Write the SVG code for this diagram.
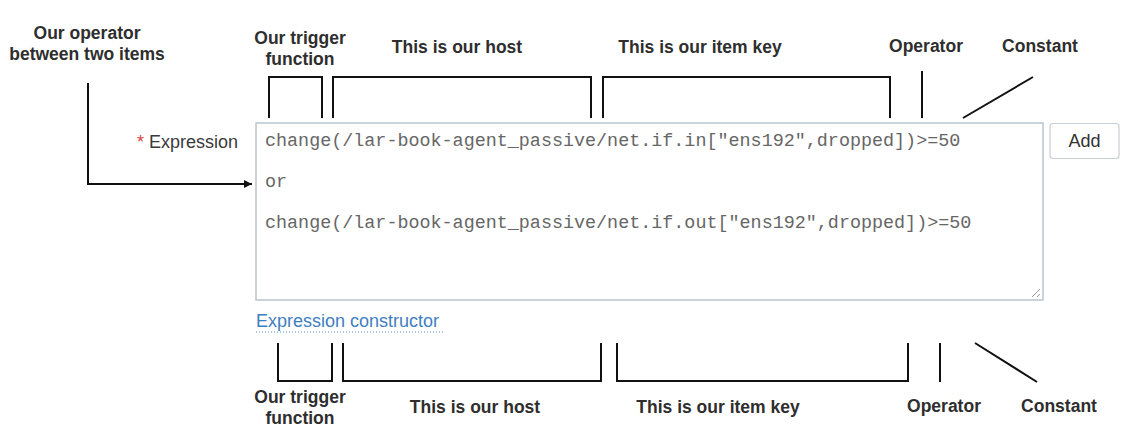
<svg xmlns="http://www.w3.org/2000/svg" width="1129" height="441" viewBox="0 0 1129 441">
<defs>
<style>
.lbl{font-family:"Liberation Sans",Arial,sans-serif;font-weight:bold;font-size:17.5px;fill:#2e2e2e;text-anchor:middle}
.ui{font-family:"Liberation Sans",Arial,sans-serif;font-size:18px}
.code{font-family:"Liberation Mono","Courier New",monospace;font-size:18.4px;fill:#666}
.ln{fill:none;stroke:#111;stroke-width:2}
</style>
<marker id="ah" viewBox="0 0 10 10" refX="10" refY="5" markerWidth="8" markerHeight="8" markerUnits="userSpaceOnUse" orient="auto">
<path d="M0,0 L10,5 L0,10 z" fill="#111"/>
</marker>
</defs>
<rect width="1129" height="441" fill="#fff"/>

<g id="form">
<text class="ui" x="137" y="148" fill="#d9443a" font-size="16">*</text>
<text class="ui" x="149" y="148" fill="#3a3a3a" font-size="18.2">Expression</text>
<rect x="256" y="123" width="787" height="177" fill="#fff" stroke="#b9c5ce" stroke-width="1.5"/>
<text class="code" x="265" y="146">change(/lar-book-agent_passive/net.if.in["ens192",dropped])&gt;=50</text>
<text class="code" x="265" y="187">or</text>
<text class="code" x="265" y="228">change(/lar-book-agent_passive/net.if.out["ens192",dropped])&gt;=50</text>
<path d="M1040,289 L1032,297 M1040,294 L1037,297" stroke="#999" stroke-width="1"/>
<rect x="1050" y="123.5" width="69" height="35" rx="3" fill="#fff" stroke="#c8cfd4" stroke-width="1.2"/>
<text class="ui" x="1084.5" y="147" fill="#333" text-anchor="middle">Add</text>
<text class="ui" x="256" y="327" fill="#3f7ec1" font-size="18.4">Expression constructor</text>
<line x1="256" y1="332" x2="443" y2="332" stroke="#5b93cc" stroke-width="1" stroke-dasharray="1,2"/>
</g>

<g id="top-operator-between"><text class="lbl" x="87" y="39">Our operator</text><text class="lbl" x="87" y="60">between two items</text></g>
<g id="top-trigger"><text class="lbl" x="300" y="44">Our trigger</text><text class="lbl" x="300" y="65">function</text></g>
<g id="top-host"><text class="lbl" x="457" y="53">This is our host</text></g>
<g id="top-itemkey"><text class="lbl" x="700" y="53">This is our item key</text></g>
<g id="top-operator"><text class="lbl" x="926" y="52">Operator</text></g>
<g id="top-constant"><text class="lbl" x="1040" y="52">Constant</text></g>

<g id="bot-trigger"><text class="lbl" x="300" y="403">Our trigger</text><text class="lbl" x="300" y="424">function</text></g>
<g id="bot-host"><text class="lbl" x="475" y="413">This is our host</text></g>
<g id="bot-itemkey"><text class="lbl" x="718" y="413">This is our item key</text></g>
<g id="bot-operator"><text class="lbl" x="944" y="412">Operator</text></g>
<g id="bot-constant"><text class="lbl" x="1059" y="412">Constant</text></g>

<g id="connectors">
<polyline class="ln" points="88,83 88,184 252,184" marker-end="url(#ah)"/>
<polyline class="ln" points="269,118 269,77 322,77 322,118"/>
<polyline class="ln" points="333,118 333,77 591,77 591,118"/>
<polyline class="ln" points="603,118 603,77 890,77 890,118"/>
<line class="ln" x1="922" y1="71" x2="922" y2="118"/>
<line class="ln" x1="1033" y1="77" x2="963" y2="118"/>
<polyline class="ln" points="278,343 278,381 332,381 332,343"/>
<polyline class="ln" points="343,343 343,381 601,381 601,343"/>
<polyline class="ln" points="617,343 617,381 908,381 908,343"/>
<line class="ln" x1="940" y1="343" x2="940" y2="382"/>
<line class="ln" x1="975" y1="343" x2="1037" y2="382"/>
</g>
</svg>
